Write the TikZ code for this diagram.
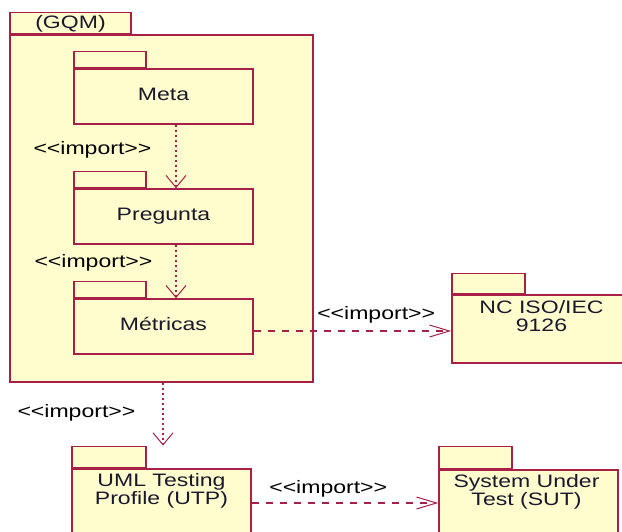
\documentclass[tikz,border=0pt]{standalone}
\usepackage{fontspec}
\setmainfont[FakeStretch=1.28]{Liberation Sans}
\usepackage{tikz}
\usepackage{xcolor}
\usetikzlibrary{arrows.meta}
\definecolor{pkgline}{RGB}{168,32,72}
\definecolor{pkgfill}{RGB}{255,252,205}
\definecolor{pkgtext}{RGB}{25,25,45}

\begin{document}
\begin{tikzpicture}[x=1pt, y=1pt,
    every node/.style={font=\fontsize{18}{18}\selectfont, text=pkgtext},
    pkg/.style={draw=pkgline, fill=pkgfill, line width=1.6pt, inner sep=0pt},
    tab/.style={pkg, anchor=south west},
    pkgname/.style={text height=13pt, text depth=4pt},
    lbl/.style={inner sep=0pt, text=black},
    imp/.style={draw=pkgline, line width=1.3pt, -{Straight Barb[length=12pt, width=20pt, line width=1pt]}},
    dot/.style={imp, dash pattern=on 2.5pt off 2.5pt},
    dsh/.style={imp, dash pattern=on 7pt off 7pt, -{Straight Barb[length=20pt, width=12pt, line width=1pt]}}]
  \useasboundingbox (0,0) rectangle (622,532);
  \clip (0,0) rectangle (622,532);
  \node[pkg, minimum width=303, minimum height=347] (gqm) at (161.5,323.5) {};
  \node[tab, text height=16pt, text depth=4pt, minimum width=121, minimum height=21] (gqmtab) at (gqm.north west) {(GQM)};
  \node[pkg, pkgname, minimum width=179, minimum height=55] (meta) at (163.5,435.5) {Meta};
  \node[tab, minimum width=72, minimum height=16] (metatab) at (meta.north west) {};
  \node[pkg, pkgname, minimum width=179, minimum height=55] (pregunta) at (163.5,315.5) {Pregunta};
  \node[tab, minimum width=72, minimum height=16] (preguntatab) at (pregunta.north west) {};
  \node[pkg, pkgname, minimum width=179, minimum height=55] (metricas) at (163.5,205.5) {Métricas};
  \node[tab, minimum width=72, minimum height=16] (metricastab) at (metricas.north west) {};
  \node[pkg, minimum width=179, minimum height=68] (ncis) at (541.5,203) {};
  \node[tab, minimum width=73, minimum height=20] (ncistab) at (ncis.north west) {};
  \node[anchor=north, align=center, inner sep=0pt] (ncistext) at ([yshift=-6]ncis.north) {NC ISO/IEC\\9126};
  \node[pkg, minimum width=179, minimum height=76] (utp) at (161.5,25) {};
  \node[tab, minimum width=74, minimum height=21] (utptab) at (utp.north west) {};
  \node[anchor=north, align=center, inner sep=0pt] (utptext) at ([yshift=-5]utp.north) {UML Testing\\Profile (UTP)};
  \node[pkg, minimum width=179, minimum height=75] (sut) at (528.5,24.5) {};
  \node[tab, minimum width=73, minimum height=22] (suttab) at (sut.north west) {};
  \node[anchor=north, align=center, inner sep=0pt] (suttext) at ([xshift=-2,yshift=-5]sut.north) {System Under\\Test (SUT)};
  \draw[dot] ([xshift=12.5]meta.south) -- ([xshift=12.5]pregunta.north)
    node[lbl, pos=0.4, left=24pt] (imp1) {<{}<import>{}>};
  \draw[dot] ([xshift=12.5]pregunta.south) -- ([xshift=12.5]metricas.north)
    node[lbl, pos=0.33, left=23pt] (imp2) {<{}<import>{}>};
  \coordinate (m3) at ([yshift=-4.5]metricas.east);
  \draw[dsh] (m3) -- (m3 -| ncis.west)
    node[lbl, pos=0.62, above=7.6pt] (imp3) {<{}<import>{}>};
  \draw[dot] ([xshift=1.5]gqm.south) -- ([xshift=1.5]gqm.south |- utptab.north)
    node[lbl, pos=0.48, left=27pt] (imp4) {<{}<import>{}>};
  \coordinate (u5) at ([yshift=4]utp.east);
  \draw[dsh] (u5) -- (u5 -| sut.west)
    node[lbl, pos=0.41, above=5.6pt] (imp5) {<{}<import>{}>};
\end{tikzpicture}
\end{document}
